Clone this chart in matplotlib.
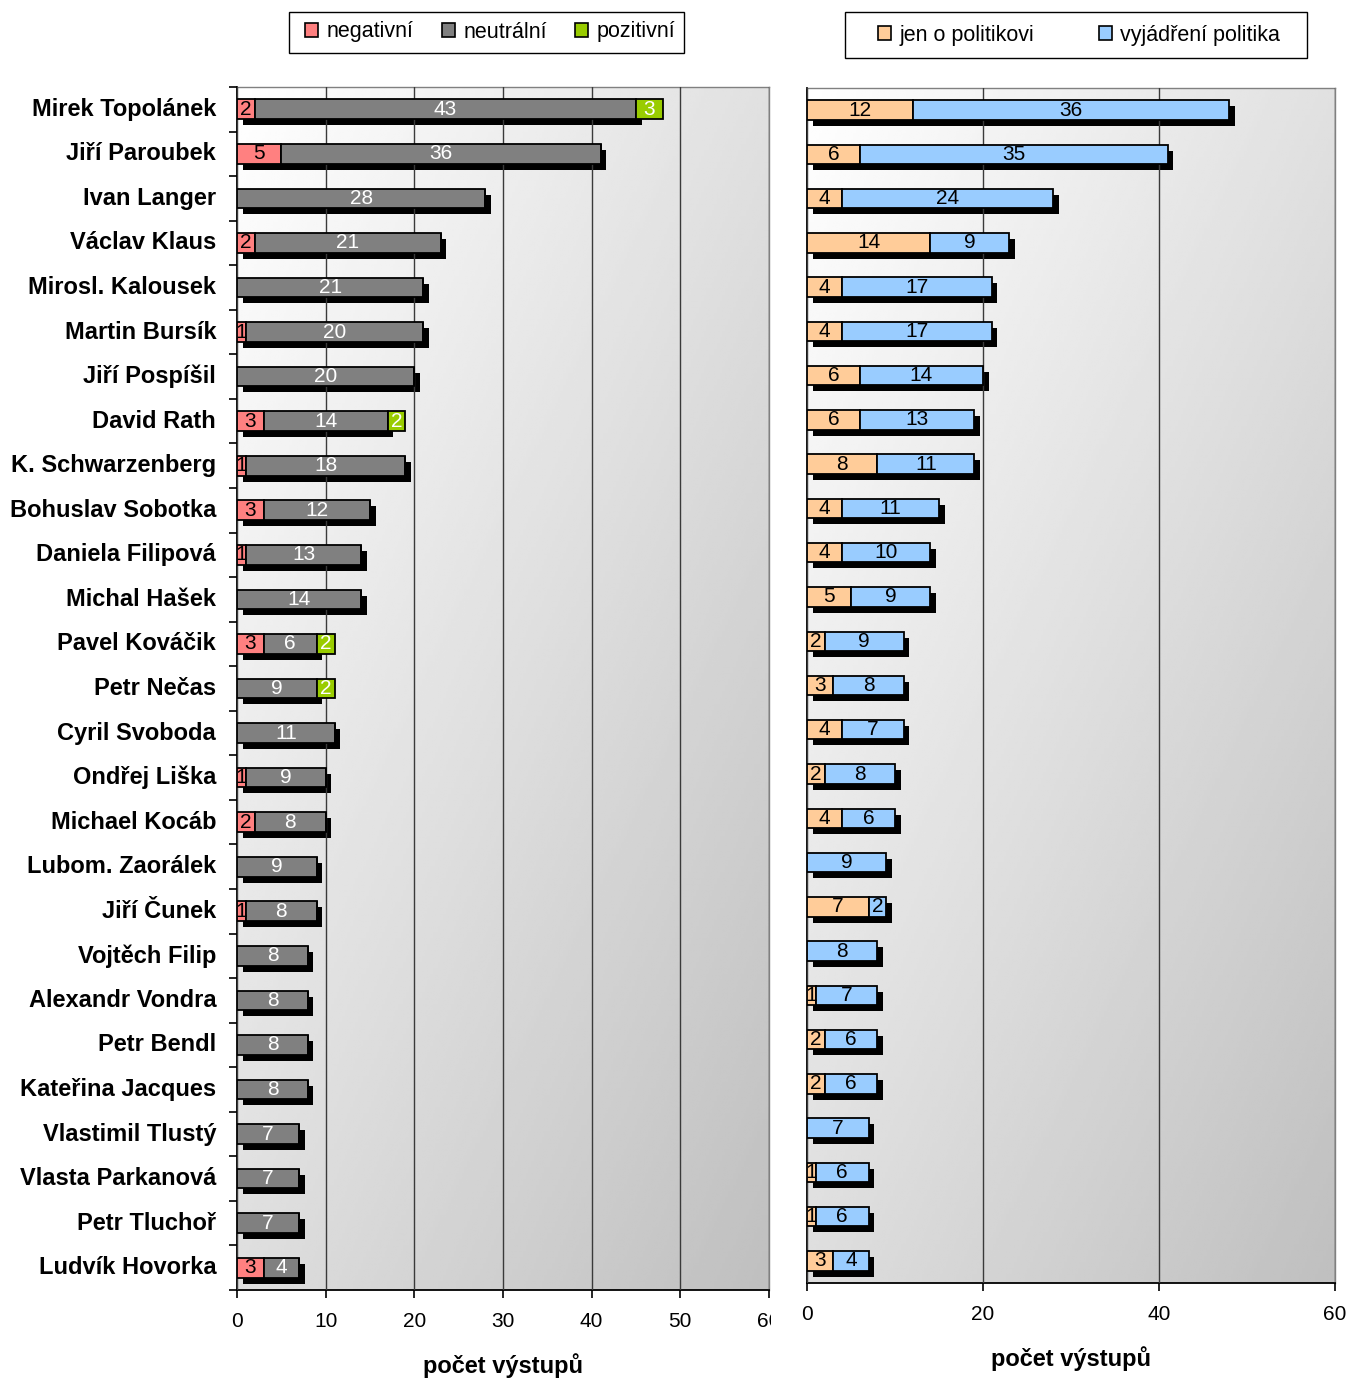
import numpy as np
import matplotlib
matplotlib.use("Agg")
import matplotlib.pyplot as plt
import matplotlib.transforms as mtransforms
from matplotlib.patches import Patch, Rectangle

plt.rcParams["font.family"] = ["Liberation Sans", "DejaVu Sans"]

# ── data ──────────────────────────────────────────────────────────────
names = [
    "Mirek Topolánek", "Jiří Paroubek", "Ivan Langer", "Václav Klaus",
    "Mirosl. Kalousek", "Martin Bursík", "Jiří Pospíšil", "David Rath",
    "K. Schwarzenberg", "Bohuslav Sobotka", "Daniela Filipová", "Michal Hašek",
    "Pavel Kováčik", "Petr Nečas", "Cyril Svoboda", "Ondřej Liška",
    "Michael Kocáb", "Lubom. Zaorálek", "Jiří Čunek", "Vojtěch Filip",
    "Alexandr Vondra", "Petr Bendl", "Kateřina Jacques", "Vlastimil Tlustý",
    "Vlasta Parkanová", "Petr Tluchoř", "Ludvík Hovorka",
]
negativni = [2, 5, 0, 2, 0, 1, 0, 3, 1, 3, 1, 0, 3, 0, 0, 1, 2, 0, 1, 0, 0, 0, 0, 0, 0, 0, 3]
neutralni = [43, 36, 28, 21, 21, 20, 20, 14, 18, 12, 13, 14, 6, 9, 11, 9, 8, 9, 8, 8, 8, 8, 8, 7, 7, 7, 4]
pozitivni = [3, 0, 0, 0, 0, 0, 0, 2, 0, 0, 0, 0, 2, 2, 0, 0, 0, 0, 0, 0, 0, 0, 0, 0, 0, 0, 0]

jen_o_politikovi = [12, 6, 4, 14, 4, 4, 6, 6, 8, 4, 4, 5, 2, 3, 4, 2, 4, 0, 7, 0, 1, 2, 2, 0, 1, 1, 3]
vyjadreni = [36, 35, 24, 9, 17, 17, 14, 13, 11, 11, 10, 9, 9, 8, 7, 8, 6, 9, 2, 8, 7, 6, 6, 7, 6, 6, 4]

left_ticks = [0, 10, 20, 30, 40, 50, 60]
right_ticks = [0, 20, 40, 60]

C_NEG = "#ff8080"
C_NEU = "#808080"
C_POS = "#99cc00"
C_JEN = "#ffcc99"
C_VYJ = "#99ccff"

W, H = 1349, 1378
fig = plt.figure(figsize=(W / 100, H / 100), dpi=100)


def px_axes(x0, y0, x1, y1):
    return fig.add_axes([x0 / W, 1 - y1 / H, (x1 - x0) / W, (y1 - y0) / H])


ax1 = px_axes(237, 87, 769, 1290)
ax2 = px_axes(807, 88, 1335, 1283)

shadow_off = mtransforms.ScaledTranslation(0.055, -0.06, fig.dpi_scale_trans)
y = np.arange(len(names))
BAR_H = 0.44


def background(ax):
    u = np.linspace(0, 1, 200)
    uu, vv = np.meshgrid(u, u)
    # white in the top-left corner, grey towards bottom-right
    img = 1.0 - 0.12 * uu - 0.13 * vv
    ax.imshow(img, extent=[0, 1, 0, 1], origin="upper", transform=ax.transAxes,
              cmap="gray", vmin=0, vmax=1, aspect="auto", zorder=0,
              interpolation="bilinear")


def style(ax, ticks):
    background(ax)
    ax.set_xlim(0, 60)
    ax.set_ylim(len(names) - 0.5, -0.5)
    ax.set_xticks(ticks)
    ax.xaxis.grid(True, color="#3a3a3a", lw=1.0, zorder=1)
    ax.set_axisbelow(False)
    ax.tick_params(axis="x", direction="out", length=6, width=1.2,
                   labelsize=15, pad=10)
    ax.set_yticks(np.arange(len(names) + 1) - 0.5, minor=True)
    ax.tick_params(axis="y", which="minor", direction="out", length=6, width=1.2)
    ax.tick_params(axis="y", which="major", length=0)
    for s in ("top", "right"):
        ax.spines[s].set_color("#808080")
        ax.spines[s].set_linewidth(1.0)
    for s in ("left", "bottom"):
        ax.spines[s].set_color("black")
        ax.spines[s].set_linewidth(1.3)
    ax.set_xlabel("počet výstupů", fontsize=17, fontweight="bold", labelpad=16)


def stacked(ax, series, colors, txt_colors, shadowed):
    left = np.zeros(len(names))
    # shadows first (only for the shadowed series)
    sh_left = np.zeros(len(names))
    for vals, sh in zip(series, shadowed):
        vals = np.asarray(vals, float)
        if sh:
            ax.barh(y, vals, left=sh_left, height=BAR_H, color="black",
                    edgecolor="black", lw=0,
                    transform=ax.transData + shadow_off, zorder=2)
        sh_left += vals
    for vals, col, tc in zip(series, colors, txt_colors):
        vals = np.asarray(vals, float)
        ax.barh(y, vals, left=left, height=BAR_H, color=col,
                edgecolor="black", lw=1.3, zorder=3)
        for i, v in enumerate(vals):
            if v > 0:
                ax.text(left[i] + v / 2, y[i], f"{int(v)}", ha="center",
                        va="center", fontsize=15, color=tc, zorder=4)
        left += vals


# ── left panel ────────────────────────────────────────────────────────
style(ax1, left_ticks)
stacked(ax1, [negativni, neutralni, pozitivni], [C_NEG, C_NEU, C_POS],
        ["black", "white", "white"], [True, True, False])
ax1.set_yticks(y)
ax1.set_yticklabels(names, fontsize=17, fontweight="bold")
ax1.tick_params(axis="y", which="major", pad=15)
for lab in ax1.get_yticklabels():
    lab.set_va("center")
# last tick label is cut by the panel edge in the original
clip = mtransforms.TransformedBbox(
    mtransforms.Bbox([[0, 0], [771 / W, 1]]), fig.transFigure)
for lab in ax1.get_xticklabels():
    lab.set_clip_box(clip)
    lab.set_clip_on(True)

# ── right panel ───────────────────────────────────────────────────────
style(ax2, right_ticks)
stacked(ax2, [jen_o_politikovi, vyjadreni], [C_JEN, C_VYJ],
        ["black", "black"], [True, True])
ax2.set_yticks([])
ax2.set_yticks(np.arange(len(names) + 1) - 0.5, minor=True)
ax2.tick_params(axis="y", which="minor", length=0)

# ── legends ───────────────────────────────────────────────────────────
def legend(handles, labels, box, cx, cy, colsp):
    x0, y0, x1, y1 = box
    fig.patches.append(Rectangle((x0 / W, 1 - y1 / H), (x1 - x0) / W, (y1 - y0) / H,
                                 transform=fig.transFigure, facecolor="white",
                                 edgecolor="black", lw=1.0, zorder=5))
    leg = fig.legend(handles, labels, loc="center", bbox_to_anchor=(cx / W, 1 - cy / H),
                     ncol=len(handles), fontsize=15.5, frameon=False,
                     handlelength=0.6, handleheight=0.6, handletextpad=0.4,
                     columnspacing=colsp, borderpad=0.2)
    leg.set_zorder(6)
    return leg


legend([Patch(facecolor=c, edgecolor="black", lw=1.2) for c in (C_NEG, C_NEU, C_POS)],
       ["negativní", "neutrální", "pozitivní"], (289, 12, 684, 53), 490, 32, 1.3)
legend([Patch(facecolor=c, edgecolor="black", lw=1.2) for c in (C_JEN, C_VYJ)],
       ["jen o politikovi", "vyjádření politika"], (845, 12, 1307, 58), 1079, 35, 3.0)

fig.savefig("out.png", dpi=100)
